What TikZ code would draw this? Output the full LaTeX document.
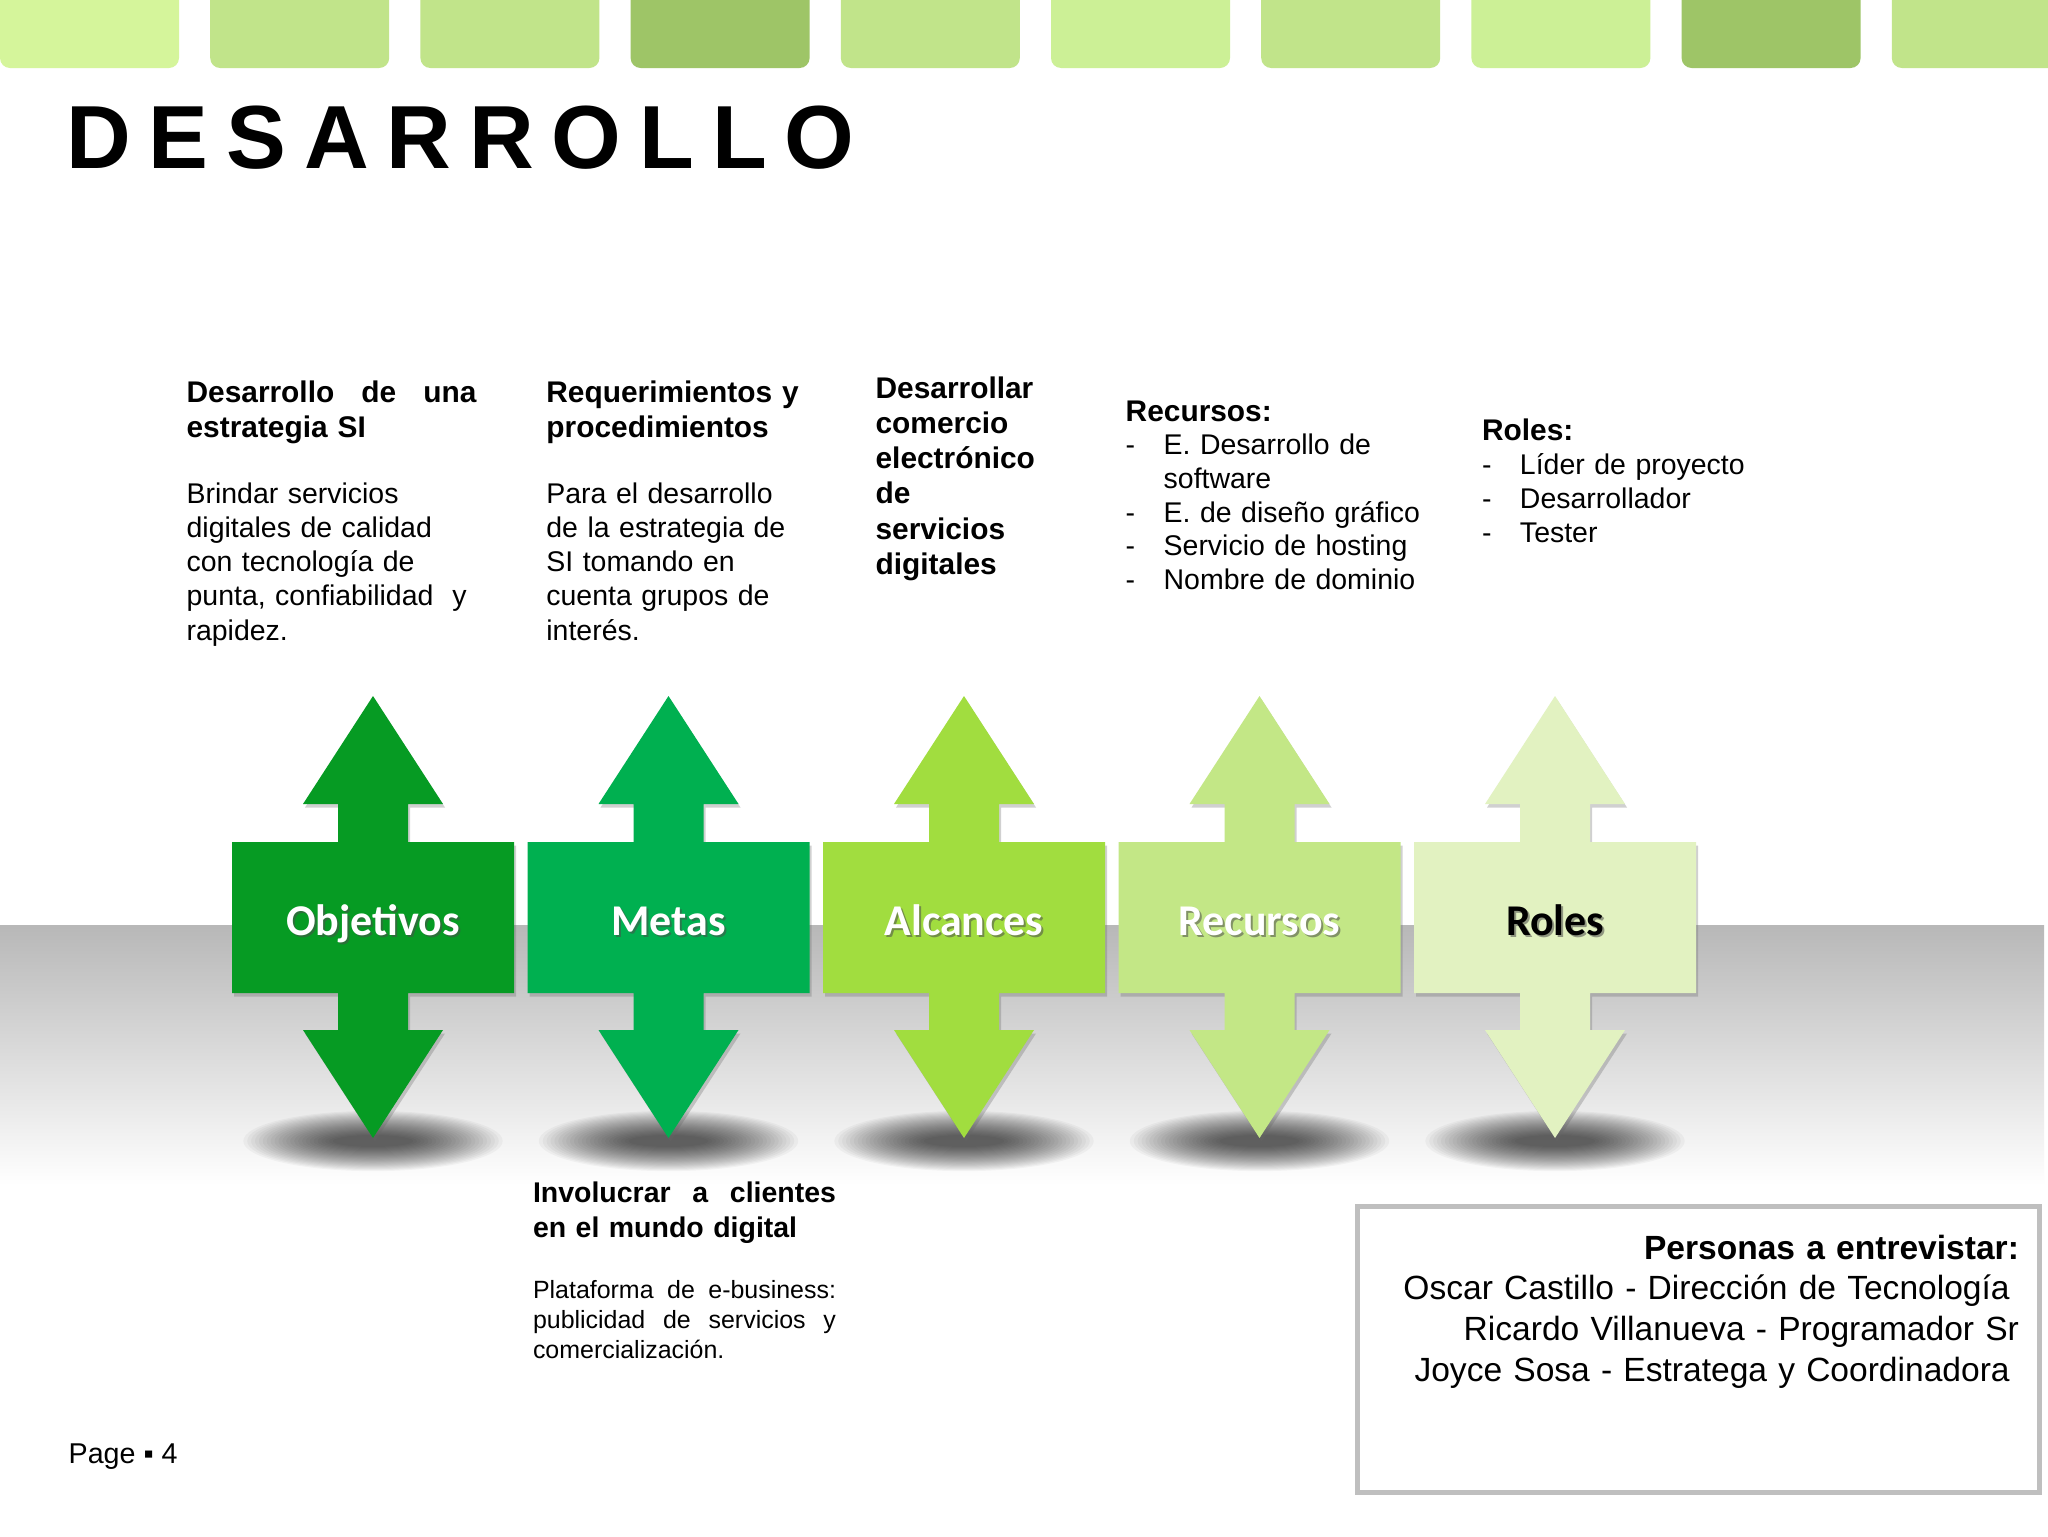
\documentclass[tikz,border=0pt]{standalone}
\usepackage{fontspec}
\setmainfont{Liberation Sans}
\newfontfamily\calfont{Carlito}
\usetikzlibrary{positioning, shadows}
\definecolor{sqlight}{HTML}{D5F59B}
\definecolor{sqmid}{HTML}{C1E48A}
\definecolor{sqpale}{HTML}{CCF096}
\definecolor{sqdark}{HTML}{9EC567}
\definecolor{colobj}{HTML}{069B23}
\definecolor{colmet}{HTML}{00B050}
\definecolor{colalc}{HTML}{A1DD3F}
\definecolor{colrec}{HTML}{C3E786}
\definecolor{colrol}{HTML}{E2F2C1}
\definecolor{framegray}{HTML}{BFBFBF}
\newcommand{\dashitem}{\makebox[7.6mm][l]{-}}

\begin{document}
\begin{tikzpicture}[x=0.2mm, y=-0.2mm,
    every node/.style={inner sep=0pt, outer sep=0pt},
    heading/.style={font=\fontsize{17}{20}\selectfont\bfseries, text width=#1, align=left, anchor=base west},
    bodytext/.style={font=\fontsize{16.2}{19.5}\selectfont, text width=#1, align=left, anchor=base west},
    listtext/.style={font=\fontsize{16.2}{19.2}\selectfont, text width=#1, align=left, anchor=base west},
    stepbox/.style={minimum width=56.4mm, minimum height=30.2mm},
    boxlabel/.style={font=\calfont\fontsize{25}{30}\selectfont\bfseries, anchor=base},
    arrowshade/.style={drop shadow={shadow xshift=0.4mm, shadow yshift=-0.7mm, opacity=0.3, fill=black!60}}]
  \useasboundingbox (0,0) rectangle (2048,1536);
  \fill[white] (0,0) rectangle (2048,1536);

  % strip of tiles along the top
  \foreach \i/\c in {0/sqlight,1/sqmid,2/sqmid,3/sqdark,4/sqmid,5/sqpale,6/sqmid,7/sqpale,8/sqdark,9/sqmid}
    \fill[\c, rounded corners=2mm] ({\i*210.2},-30) rectangle ({\i*210.2+179},68);

  \node[anchor=base west, font=\fontsize{51}{60}\selectfont\bfseries\addfontfeature{LetterSpace=20}] (title) at (66,168) {DESARROLLO};

  % floor
  \shade[top color=black!28, bottom color=white] (0,925) rectangle (2044,1185);

  % arrows
  \foreach \n/\cx/\col/\txt/\tcol in {obj/373/colobj/Objetivos/white, met/668.5/colmet/Metas/white,
      alc/964/colalc/Alcances/white, rec/1259.5/colrec/Recursos/white, rol/1555/colrol/Roles/black}{
    \foreach \k in {0,...,23}
      \fill[black, opacity=0.035] (\cx,1141) ellipse [x radius={40+3.9*\k}, y radius={6+1.05*\k}];
    \node[stepbox] (\n) at (\cx,917.5) {};
    \fill[\col, arrowshade] (\n.north west) -- ++(106,0) -- ++(0,-38) -- ++(-35,0) -- (\cx,696)
      -- ++(70,108) -- ++(-35,0) -- ++(0,38) -- (\n.north east) -- (\n.south east) -- ++(-106,0)
      -- ++(0,37) -- ++(35,0) -- (\cx,1138) -- ++(-70,-108) -- ++(35,0) -- ++(0,-37) -- (\n.south west) -- cycle;
    \node[boxlabel, text=black!70, opacity=0.55] (\n-sh) at ([xshift=0.4mm, yshift=-3.9mm]\n.center) {\txt};
    \node[boxlabel, text=\tcol] (\n-lbl) at ([yshift=-3.5mm]\n.center) {\txt};
  }

  % texts above
  \node[heading=58mm] (objhead) at (186.6,402) {Desarrollo\hfill de\hfill una\\estrategia SI};
  \node[bodytext=62mm] (objbody) at (186.6,503) {Brindar servicios\\digitales de calidad\\con tecnología de\\punta, confiabilidad\ \ y\\rapidez.};

  \node[heading=70mm] (methead) at (546.4,402) {Requerimientos y\\procedimientos};
  \node[bodytext=70mm] (metbody) at (546.4,503) {Para el desarrollo\\de la estrategia de\\SI tomando en\\cuenta grupos de\\interés.};

  \node[heading=45mm, font=\fontsize{17}{20.1}\selectfont\bfseries] (alchead) at (875.6,398)
    {Desarrollar\\comercio\\electrónico\\de\\servicios\\digitales};

  \node[listtext=70mm] (reclist) at (1125.7,421) {\textbf{\fontsize{17}{19.2}\selectfont Recursos:}\\
    \dashitem E. Desarrollo de\\\hspace*{7.6mm}software\\\dashitem E. de diseño gráfico\\
    \dashitem Servicio de hosting\\\dashitem Nombre de dominio};

  \node[listtext=70mm, font=\fontsize{16.2}{19.5}\selectfont] (rollist) at (1482,440) {\textbf{\fontsize{17}{19.5}\selectfont Roles:}\\
    \dashitem Líder de proyecto\\\dashitem Desarrollador\\\dashitem Tester};

  % text below
  \node[heading=60.6mm, font=\fontsize{16.2}{20.3}\selectfont\bfseries] (invhead) at (533,1202)
    {Involucrar\hfill a\hfill clientes\\en el mundo digital};
  \node[bodytext=60.6mm, font=\fontsize{14.2}{17.1}\selectfont] (invbody) at (533,1298)
    {Plataforma\hfill de\hfill e-business:\\publicidad\hfill de\hfill servicios\hfill y\\comercialización.};

  % interview box
  \node[draw=framegray, line width=1mm, minimum width=136.4mm, minimum height=57.2mm] (intbox) at (1698,1349) {};
  \node[font=\fontsize{19.1}{23.3}\selectfont, text width=130mm, align=right, anchor=base east] (intlist) at (2019,1259)
    {\textbf{Personas a entrevistar:}\\Oscar Castillo - Dirección de Tecnología\kern.278em\\
     Ricardo Villanueva - Programador Sr\\Joyce Sosa - Estratega y Coordinadora\kern.278em};

  \node[anchor=base west, font=\fontsize{16.3}{19}\selectfont] (pagenum) at (68.7,1463) {Page ▪ 4};
\end{tikzpicture}
\end{document}
